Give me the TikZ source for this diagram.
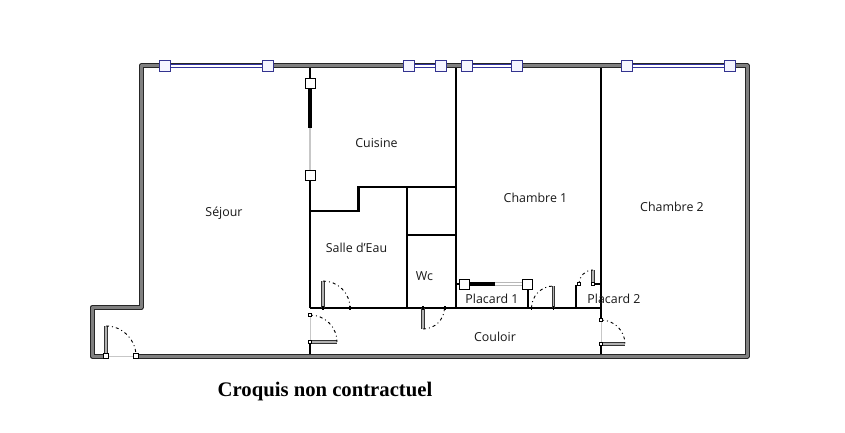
\documentclass[tikz,border=0pt]{standalone}
\usepackage{fontspec}
\setmainfont{Open Sans}
\newfontfamily\titlefont{Liberation Serif}
\tikzset{
  outerwall/.style={draw=black!85,double=black!50,double distance=3pt,line width=1pt,line cap=round,line join=round},
  thinwall/.style={draw=black,line width=2.5pt,line cap=butt,line join=miter},
  glass/.style={draw=black!22,line width=2pt},
  solidpart/.style={draw=black,line width=4pt},
  winline/.style={draw=black!30!blue!60!gray,double=white,double distance=2.2pt,line width=.9pt},
  winbox/.style={draw=black!40!blue!60!gray,fill=blue!4,line width=1.1pt,minimum size=10.5pt,inner sep=0pt,rectangle},
  slidebox/.style={draw=black,fill=white,line width=.9pt,minimum size=10pt,inner sep=0pt,rectangle},
  hinge/.style={draw=black,fill=white,line width=.7pt,minimum size=5pt,inner sep=0pt,rectangle},
  dooropen/.style={draw=black,line width=.9pt,dash pattern=on 3pt off 3pt on 1pt off 3pt},
  leaf/.style={draw=black!80,double=black!30,double distance=1.8pt,line width=.8pt},
  label/.style={font=\fontsize{12.4}{14}\selectfont,text=black!90,inner sep=0pt},
  tick/.style={draw=black,line width=1.8pt}
}
\begin{document}
\begin{tikzpicture}[x=1pt,y=-1pt]
\useasboundingbox (0,0) rectangle (845,433);
\fill[white] (0,0) rectangle (845,433);
% thin interior walls
\draw[thinwall] (310,66) -- (310,83);
\draw[thinwall] (310,175) -- (310,308);
\draw[thinwall] (310,211) -- (358.5,211) -- (358.5,187) -- (456,187);
\draw[thinwall] (407,187) -- (407,308);
\draw[thinwall] (407,235) -- (456,235);
\draw[thinwall] (456,66) -- (456,308);
\draw[thinwall] (601,66) -- (601,320);
\draw[thinwall] (310,308) -- (601,308);
\draw[thinwall] (528,284) -- (528,308);
\draw[thinwall] (576,285) -- (576,308);
\draw[thinwall] (593,284) -- (601,284);
\draw[thinwall] (310,342) -- (310,356);
\draw[thinwall] (601,344) -- (601,356);
% kitchen sliding window
\draw[solidpart] (310,83) -- (310,128);
\draw[glass] (310,128) -- (310,175);
\node[slidebox] (kA) at (310,83) {};
\node[slidebox] (kB) at (310,175) {};
% cupboard sliding door
\draw[draw=black!28,double=white,line width=.9pt,double distance=1.8pt] (495,284) -- (527,284);
\draw[solidpart] (464,284) -- (495,284);
\draw[thinwall,line width=1.5pt] (456,284) -- (464,284);
\node[slidebox] (pA) at (464,284) {};
\node[slidebox] (pB) at (527,284) {};
% outer walls
\draw[outerwall] (136,356) -- (747,356) -- (747,66) -- (141,66) -- (141,307.5) -- (92,307.5) -- (92,356) -- (106,356);
% windows
\coordinate (w1) at (165,66); \coordinate (w2) at (268,66);
\coordinate (w3) at (409,66); \coordinate (w4) at (441,66);
\coordinate (w5) at (467,66); \coordinate (w6) at (517,66);
\coordinate (w7) at (627,66); \coordinate (w8) at (730,66);
\draw[winline] (w1) -- (w2);
\draw[winline] (w3) -- (w4);
\draw[winline] (w5) -- (w6);
\draw[winline] (w7) -- (w8);
\node[winbox] (W1) at (w1) {}; \node[winbox] (W2) at (w2) {};
\node[winbox] (W3) at (w3) {}; \node[winbox] (W4) at (w4) {};
\node[winbox] (W5) at (w5) {}; \node[winbox] (W6) at (w6) {};
\node[winbox] (W7) at (w7) {}; \node[winbox] (W8) at (w8) {};
% entrance door
\draw[glass,line width=.8pt] (106,356) -- (136,356);
\draw[leaf] (106,356) -- (106,326);
\draw[dooropen] (106,326) arc[start angle=-90,end angle=0,radius=30];
\node[hinge] (e1) at (106,356) {};
\node[hinge] (e2) at (136,356) {};
% door to living corridor
\draw[glass,line width=.8pt] (310,315) -- (310,342);
\draw[leaf] (310,342) -- (337,342);
\draw[dooropen] (310,315) arc[start angle=-90,end angle=0,radius=27];
\node[hinge,minimum size=3pt] (c1) at (310,315) {};
\node[hinge,minimum size=3pt] (c2) at (310,342) {};
% salle d'eau door
\draw[leaf] (323,308) -- (323,281);
\draw[dooropen] (323,281) arc[start angle=-90,end angle=0,radius=27];
\draw[tick] (323,306) -- (323,310);
\draw[tick] (350,306) -- (350,310);
% wc door
\draw[leaf] (423,308) -- (423,329);
\draw[dooropen] (423,329) arc[start angle=90,end angle=0,radius=21.5];
\draw[tick] (423,306) -- (423,310);
\draw[tick] (445,306) -- (445,310);
% placard 1 door
\draw[leaf] (553.5,308) -- (553.5,286);
\draw[dooropen] (531.5,308) arc[start angle=180,end angle=270,radius=22];
\draw[tick] (531.5,306) -- (531.5,310);
\draw[tick] (553.5,306) -- (553.5,310);
% placard 2 door
\draw[leaf] (593,284) -- (593,269.5);
\draw[dooropen] (579,284) arc[start angle=180,end angle=270,radius=14];
\node[hinge,minimum size=3pt] (p1) at (579,284) {};
\node[hinge,minimum size=3pt] (p2) at (593,284) {};
% couloir door
\draw[glass,line width=.8pt] (601,320) -- (601,344);
\draw[leaf] (601,344) -- (625,344);
\draw[dooropen] (601,320) arc[start angle=-90,end angle=0,radius=24];
\node[hinge,minimum size=3pt] (d1) at (601,320) {};
\node[hinge,minimum size=3pt] (d2) at (601,344) {};
% labels
\node[label] (sejour) at (224,213) {Séjour};
\node[label] (cuisine) at (376.5,143) {Cuisine};
\node[label] (ch1) at (535.5,198) {Chambre 1};
\node[label] (ch2) at (672,207) {Chambre 2};
\node[label] (sde) at (356.5,248) {Salle d'Eau};
\node[label] (wc) at (424.5,276) {Wc};
\node[label] (pl1) at (492,298.5) {Placard 1};
\node[label] (pl2) at (614,298.5) {Placard 2};
\node[label] (couloir) at (495,336.5) {Couloir};
\node[font=\titlefont\bfseries\fontsize{20.7}{22}\selectfont,inner sep=0pt] (titre) at (325,391.5) {Croquis non contractuel};
\end{tikzpicture}
\end{document}
